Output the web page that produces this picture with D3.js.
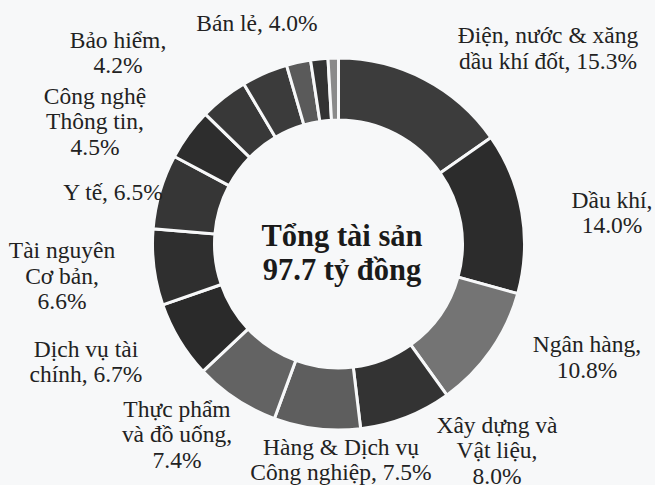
<!DOCTYPE html>
<html>
<head>
<meta charset="utf-8">
<script src="https://cdn.jsdelivr.net/npm/d3@7"></script>
<style>
  html, body { margin: 0; padding: 0; background: #f7f8f9; }
</style>
</head>
<body>
<div id="chart"></div>
<script>
// Sectors, clockwise from 12 o'clock (last three are unlabeled small slices)
var sectors = ["Điện, nước & xăng dầu khí đốt", "Dầu khí", "Ngân hàng", "Xây dựng và Vật liệu",
     "Hàng & Dịch vụ Công nghiệp", "Thực phẩm và đồ uống", "Dịch vụ tài chính", "Tài nguyên Cơ bản",
     "Y tế", "Công nghệ Thông tin", "Bảo hiểm", "Bán lẻ", "Khác 1", "Khác 2", "Khác 3"];
var shares = [15.3, 14.0, 10.8, 8.0, 7.5, 7.4, 6.7, 6.6, 6.5, 4.5, 4.2, 4.0, 2.1, 1.5, 0.9];
var greys = ["#3c3c3c", "#2c2c2c", "#747474", "#333333", "#5e5e5e", "#636363", "#2a2a2a", "#2f2f2f",
     "#363636", "#2d2d2d", "#383838", "#3b3b3b", "#5a5a5a", "#333333", "#8a8a8a"];

// label text, one entry per line
var labelLines = [
     ["Điện, nước & xăng", "dầu khí đốt, 15.3%"],
     ["Dầu khí,", "14.0%"],
     ["Ngân hàng,", "10.8%"],
     ["Xây dựng và", "Vật liệu,", "8.0%"],
     ["Hàng & Dịch vụ", "Công nghiệp, 7.5%"],
     ["Thực phẩm", "và đồ uống,", "7.4%"],
     ["Dịch vụ tài", "chính, 6.7%"],
     ["Tài nguyên", "Cơ bản,", "6.6%"],
     ["Y tế, 6.5%"],
     ["Công nghệ", "Thông tin,", "4.5%"],
     ["Bảo hiểm,", "4.2%"],
     ["Bán lẻ, 4.0%"],
     [], [], []
];
var totalLines = ["Tổng tài sản", "97.7 tỷ đồng"];

const width = 655, height = 485;
const cx = 338.5, cy = 244;
const outerR = 186, innerR = 124;
const lineH = 25.5;
// regular serif is drawn at 22px and scaled up (larger sizes fall back to sans here)
const baseSize = 22, labelScale = 23.5 / 22;

// label block positions: [center x, baseline of first line]
var labelPos = [[548, 43], [612, 208], [587, 352], [497, 433], [341, 455], [177, 417],
     [86, 357], [62, 258], [113, 200], [95, 104], [118, 48], [257, 31]];

var svg = d3.select("#chart")
     .append("svg")
     .attr("width", width)
     .attr("height", height);

svg.append("rect")
     .attr("width", width)
     .attr("height", height)
     .attr("fill", "#f7f8f9");

var pie = d3.pie()
     .sort(null)
     .value(function(d) { return d; });

var arc = d3.arc()
     .innerRadius(innerR)
     .outerRadius(outerR);

var g = svg.append("g")
     .attr("transform", "translate(" + cx + "," + cy + ")");

g.selectAll("path")
     .data(pie(shares))
     .enter()
     .append("path")
     .attr("d", arc)
     .attr("fill", function(d, i) { return greys[i]; })
     .attr("stroke", "#f7f8f9")
     .attr("stroke-width", 3);

// outer labels
var lg = svg.append("g")
     .attr("transform", "scale(" + labelScale + ")");

labelPos.forEach(function(p, i) {
     var t = lg.append("text")
          .attr("text-anchor", "middle")
          .attr("font-family", "Liberation Serif")
          .attr("font-size", baseSize)
          .attr("fill", "#222");
     labelLines[i].forEach(function(line, k) {
          t.append("tspan")
               .attr("x", p[0] / labelScale)
               .attr("y", (p[1] + k * lineH) / labelScale)
               .text(line);
     });
});

// centre text
var c = svg.append("text")
     .attr("text-anchor", "middle")
     .attr("font-family", "Liberation Serif")
     .attr("font-size", 30.5)
     .attr("font-weight", "bold")
     .attr("fill", "#1a1a1a");
totalLines.forEach(function(line, k) {
     c.append("tspan")
          .attr("x", 342)
          .attr("y", 246 + k * 34)
          .text(line);
});
</script>
</body>
</html>
